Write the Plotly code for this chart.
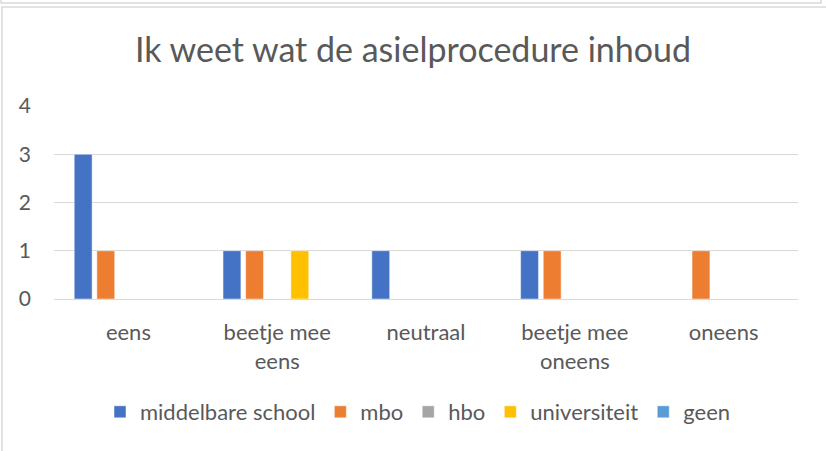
import plotly.graph_objects as go

# data
categories = ["eens", "beetje mee<br>eens", "neutraal", "beetje mee<br>oneens", "oneens"]
series_names = ["middelbare school", "mbo", "hbo", "universiteit", "geen"]
middelbare_school = [3, 1, 1, 1, 0]
mbo = [1, 1, 0, 1, 1]
hbo = [0, 0, 0, 0, 0]
universiteit = [0, 1, 0, 0, 0]
geen = [0, 0, 0, 0, 0]
y_ticks = [0, 1, 2, 3, 4]

values = [middelbare_school, mbo, hbo, universiteit, geen]
colors = ["#4472C4", "#ED7D31", "#A5A5A5", "#FFC000", "#5B9BD5"]

W, H = 826, 451
L, R, T, B = 54, 28, 106, 152
pw, ph = W - L - R, H - T - B

fig = go.Figure()
for name, vals, col in zip(series_names, values, colors):
    fig.add_trace(go.Bar(
        x=categories, y=vals, name=name,
        marker=dict(color=col, line=dict(color="rgba(255,255,255,0.6)", width=0.8)),
    ))

def px_x(p):
    return (p - L) / pw

def px_y(p):
    return (H - B - p) / ph

font = "Lato, 'Open Sans', sans-serif"
grey_txt = "#595959"

fig.update_layout(
    width=W, height=H,
    margin=dict(l=L, r=R, t=T, b=B, autoexpand=False),
    paper_bgcolor="white", plot_bgcolor="white",
    barmode="group", bargap=0.24, bargroupgap=0.21,
    font=dict(family=font, color=grey_txt, size=18),
    title=dict(text="Ik weet wat de asielprocedure inhoud", x=0.5, xref="container",
               xanchor="center", y=1 - 50 / H, yref="container", yanchor="middle",
               font=dict(size=34, color=grey_txt, family=font)),
    showlegend=True,
    legend=dict(orientation="h", x=px_x(418), xanchor="center",
                y=px_y(412), yanchor="middle", font=dict(size=22, color=grey_txt),
                itemclick=False, itemdoubleclick=False),
    xaxis=dict(showgrid=False, showline=False, ticks="", tickfont=dict(size=22),
               tickangle=0, ticklabelstandoff=18, automargin=False, fixedrange=True),
    yaxis=dict(range=[0, 4], tickvals=y_ticks, showgrid=True, gridcolor="#D9D9D9",
               gridwidth=1.3, zeroline=True, zerolinecolor="#D9D9D9", zerolinewidth=1.3,
               showline=False, ticks="", tickfont=dict(size=21), ticklabelstandoff=22,
               automargin=False, fixedrange=True),
    shapes=[
        # border of chart above (only the bottom edge visible)
        dict(type="rect", xref="paper", yref="paper",
             x0=px_x(1), x1=px_x(821), y0=px_y(-20), y1=px_y(3),
             line=dict(color="#D9D9D9", width=1.5), fillcolor="rgba(0,0,0,0)", layer="below"),
        # chart border
        dict(type="rect", xref="paper", yref="paper",
             x0=px_x(2), x1=px_x(840), y0=px_y(470), y1=px_y(7),
             line=dict(color="#D9D9D9", width=1.5), fillcolor="rgba(0,0,0,0)", layer="below"),
    ],
)

fig.write_html("out.html", config={"displayModeBar": False},
               post_script="document.body.style.margin='0';")
